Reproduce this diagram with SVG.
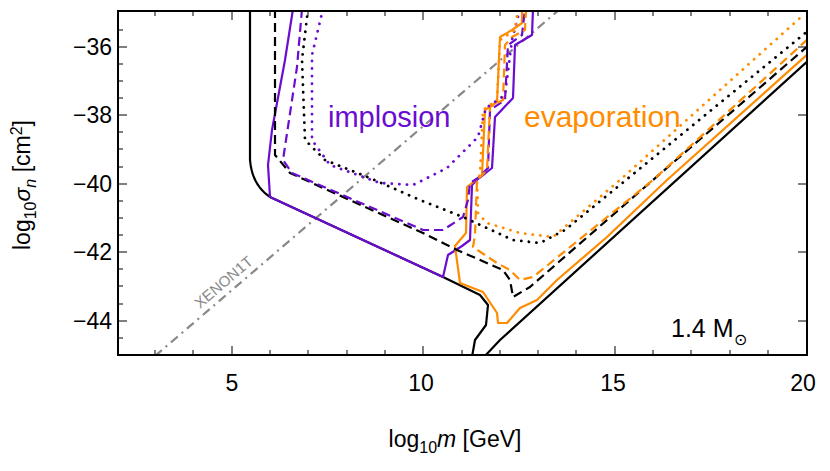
<svg xmlns="http://www.w3.org/2000/svg" width="830" height="471" viewBox="0 0 830 471">
<style>
text{font-family:"Liberation Sans",Arial,sans-serif}
.c{fill:none;stroke-width:2.2;stroke-linejoin:round}
.k{stroke:#000}.p{stroke:#6a0dd0}.o{stroke:#ff8c00}
.d{stroke-dasharray:9,5}.t{stroke-dasharray:0.1,7.5;stroke-linecap:round;stroke-width:2.8}
.tk{stroke:#000;stroke-width:1}
.lab{font-size:23px;fill:#000}
</style>
<defs><clipPath id="cl"><rect x="118" y="11" width="689" height="344"/></clipPath></defs>
<rect width="830" height="471" fill="#fff"/>
<g id="connectors" clip-path="url(#cl)">
<path class="c" stroke="#888" stroke-dasharray="9,5,2,5" d="M155,356 L560,9"/>
<path class="c k" d="M250,9 L250,160 Q252,185 270,197 L443,277 L480,295 L488,305 L486,325 L475,340 L472,357"/>
<path class="c k" d="M484,357 L500,340 L809,60"/>
<path class="c p" d="M293,9 L285,60 L272,130 L268,165 L270,197 L443,277 L448,255 L462,246 L470,240 L472,185 L477,180 L492,168 L495,117 L513,98 L515,45 L532,35 L533,9"/>
<path class="c o" d="M522,9 L522,23 L512,30 L500,37 L497,102 L485,110 L482,175 L467,187 L466,233 L455,246 L460,283 L483,292 L497,313 L498,323 L507,323 L520,308 L537,300 L557,280 L607,237 L667,180 L809,53"/>
<path class="c k d" d="M275,9 L275,155 L290,173 L423,233 L457,250 L503,270 L510,280 L513,297 L530,287 L653,180 L809,45"/>
<path class="c p d" d="M302,9 L297,67 L283,160 L292,173 L423,230 L443,230 L463,217 L468,200 L470,183 L478,178 L488,168 L490,110 L505,100 L508,45 L522,35 L525,9"/>
<path class="c o d" d="M526,9 L525,30 L512,37 L505,45 L503,100 L490,107 L487,170 L477,180 L475,235 L473,247 L497,263 L510,270 L520,280 L533,277 L653,180 L809,38"/>
<path class="c k t" d="M308,9 L302,60 L305,140 L325,160 L370,178 L420,200 L463,217 L513,240 L540,243 L565,230 L809,30"/>
<path class="c p t" d="M323,9 L312,55 L312,140 L330,165 L380,183 L413,185 L447,168 L478,137 L486,108 L505,95 L512,40 L520,9"/>
<path class="c o t" d="M518,9 L515,30 L500,40 L497,100 L483,110 L480,175 L477,180 L478,213 L487,223 L520,233 L553,237 L620,180 L800,18"/>
</g>
<g id="frame">
<rect x="118" y="11" width="689" height="344" fill="none" stroke="#000" stroke-width="2"/>
<path class="tk" d="M155,355v-5M193,355v-5M270,355v-5M308,355v-5M347,355v-5M385,355v-5M462,355v-5M500,355v-5M538,355v-5M576,355v-5M653,355v-5M691,355v-5M730,355v-5M768,355v-5M232,355v-9M423,355v-9M615,355v-9M155,11v5M193,11v5M270,11v5M308,11v5M347,11v5M385,11v5M462,11v5M500,11v5M538,11v5M576,11v5M653,11v5M691,11v5M730,11v5M768,11v5M232,11v9M423,11v9M615,11v9"/>
<path class="tk" d="M118,47h9M118,115h9M118,184h9M118,252h9M118,321h9M118,30h5M118,64h5M118,81h5M118,98h5M118,132h5M118,149h5M118,167h5M118,201h5M118,218h5M118,235h5M118,269h5M118,286h5M118,304h5M118,338h5M807,47h-9M807,115h-9M807,184h-9M807,252h-9M807,321h-9"/>
</g>
<g id="labels">
<text class="lab" x="232" y="391" text-anchor="middle">5</text>
<text class="lab" x="421" y="391" text-anchor="middle">10</text>
<text class="lab" x="613" y="391" text-anchor="middle">15</text>
<text class="lab" x="803" y="391" text-anchor="middle">20</text>
<text class="lab" x="112" y="55" text-anchor="end">−36</text>
<text class="lab" x="112" y="123" text-anchor="end">−38</text>
<text class="lab" x="112" y="192" text-anchor="end">−40</text>
<text class="lab" x="112" y="260" text-anchor="end">−42</text>
<text class="lab" x="112" y="329" text-anchor="end">−44</text>
<text class="lab" x="455" y="447" text-anchor="middle">log<tspan font-size="16" dy="6">10</tspan><tspan dy="-6" font-style="italic">m</tspan> [GeV]</text>
<text class="lab" transform="translate(30,185) rotate(-90)" text-anchor="middle">log<tspan font-size="16" dy="6">10</tspan><tspan dy="-6" font-style="italic">σ</tspan><tspan font-size="16" dy="6" font-style="italic">n</tspan><tspan dy="-6"> [cm</tspan><tspan font-size="16" dy="-8">2</tspan><tspan dy="8">]</tspan></text>
<text x="328" y="127" font-size="29" fill="#6a0dd0">implosion</text>
<text x="524" y="127" font-size="30" fill="#ff8c00">evaporation</text>
<text x="671" y="337" font-size="25">1.4 M<tspan font-size="16" dy="8">⊙</tspan></text>
<text x="0" y="0" font-size="15" fill="#888" transform="translate(200,309) rotate(-40.5)">XENON1T</text>
</g>
</svg>
